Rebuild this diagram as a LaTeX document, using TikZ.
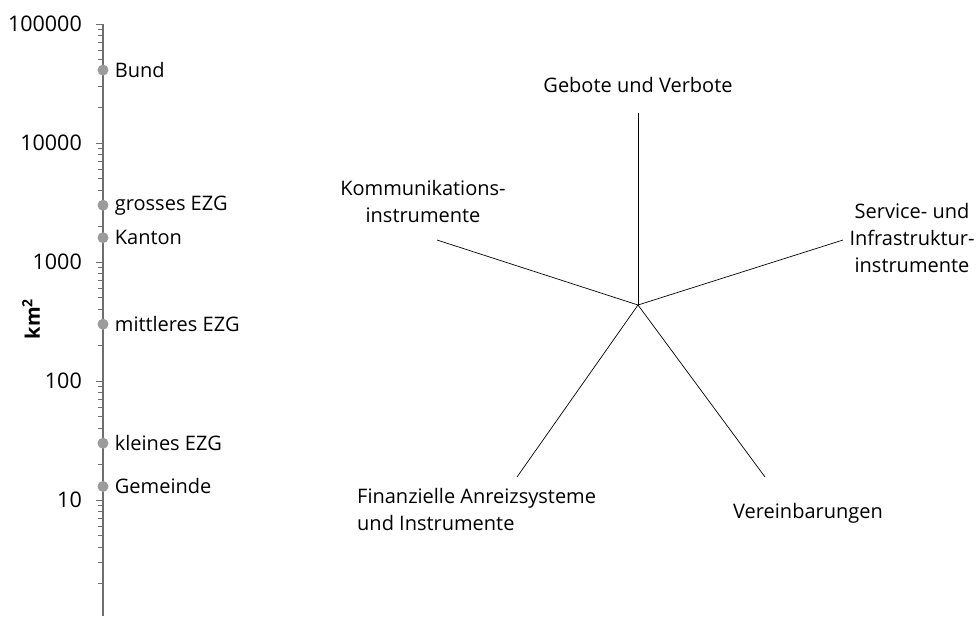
\documentclass[tikz,border=0pt]{standalone}
\usepackage{fontspec}
\setmainfont{Open Sans}
\usetikzlibrary{positioning}
\definecolor{AxisGray}{HTML}{6E6E6E}
\definecolor{DotGray}{HTML}{9B9B9B}

\begin{document}
\begin{tikzpicture}[
        x=1pt, y=-1pt,
        lbl/.style={font=\fontsize{20}{27}\selectfont, inner sep=0pt},
        numlbl/.style={font=\fontsize{21.5}{27}\selectfont, inner sep=0pt, anchor=east},
        dot/.style={circle, fill=DotGray, inner sep=0pt, minimum size=11pt},
        ray/.style={draw=black, line width=0.7pt}
      ]
        \useasboundingbox (0,0) rectangle (977,616);

        % Log axis (one decade = 119pt)
        \coordinate (axtop) at (103,24);
        \coordinate (axbot) at (103,616);
        \draw[AxisGray, line width=1.2pt] (axtop) -- (axbot);
        \foreach \e/\txt in {1/10, 2/100, 3/1000, 4/10000, 5/100000} {
          \draw[AxisGray, line width=1pt] (96,{24+(5-\e)*119}) -- (103,{24+(5-\e)*119});
          \node[numlbl] (tick\e) at (82,{24+(5-\e)*119}) {\txt};
        }
        \foreach \e in {0,...,4} {
          \foreach \m in {2,...,9} {
            \draw[AxisGray, line width=1pt] (98,{24+(5-\e-log10(\m))*119}) -- (103,{24+(5-\e-log10(\m))*119});
          }
        }
        \node[lbl, font=\fontsize{20}{24}\selectfont\bfseries, rotate=90] (unit) at (31,319) {km\textsuperscript{2}};

        % Spatial units on the axis (exponent + log10 of mantissa)
        \node[dot] (bund) at (103,{24+(5-4-log10(4.1))*119}) {};
        \node[dot] (gezg) at (103,{24+(5-3-log10(3))*119}) {};
        \node[dot] (kanton) at (103,{24+(5-3-log10(1.6))*119}) {};
        \node[dot] (mezg) at (103,{24+(5-2-log10(3))*119}) {};
        \node[dot] (kezg) at (103,{24+(5-1-log10(3))*119}) {};
        \node[dot] (gemeinde) at (103,{24+(5-1-log10(1.3))*119}) {};
        \node[lbl, right=6pt of bund] {Bund};
        \node[lbl, right=6pt of gezg] {grosses EZG};
        \node[lbl, right=6pt of kanton] {Kanton};
        \node[lbl, right=6pt of mezg] {mittleres EZG};
        \node[lbl, right=6pt of kezg] {kleines EZG};
        \node[lbl, right=6pt of gemeinde] {Gemeinde};

        % Star of instruments
        \coordinate (ctr) at (638,305);
        \coordinate (eGebote) at (638,113);
        \coordinate (eKomm) at (437,240);
        \coordinate (eService) at (843,240);
        \coordinate (eFinanz) at (517,477);
        \coordinate (eVerein) at (765,477);
        \foreach \e in {eGebote, eKomm, eService, eFinanz, eVerein}
          \draw[ray] (ctr) -- (\e);

        \node[lbl] (gebote) at (638,85) {Gebote und Verbote};
        \node[lbl, align=center] (komm) at (423,201) {Kommunikations-\\instrumente};
        \node[lbl, align=center] (service) at (912,238) {Service- und\\Infrastruktur-\\instrumente};
        \node[lbl, align=left, anchor=west] (finanz) at (357,509) {Finanzielle Anreizsysteme\\und Instrumente};
        \node[lbl] (verein) at (808,513) {Vereinbarungen};

      \end{tikzpicture}
\end{document}
